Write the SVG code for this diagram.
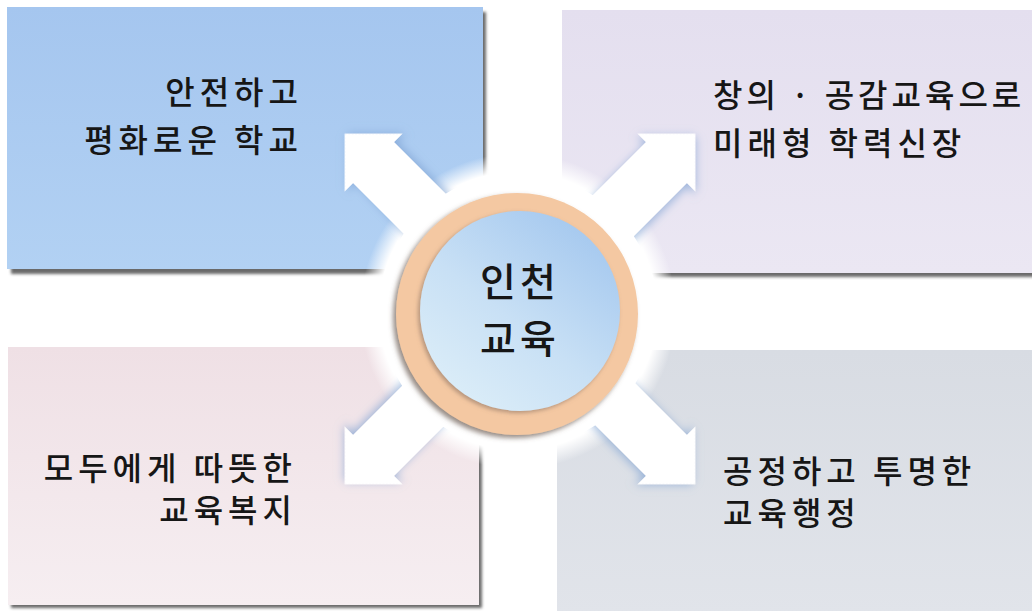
<svg xmlns="http://www.w3.org/2000/svg" width="1032" height="611" viewBox="0 0 1032 611">
<style>
.lbl{font-family:"Noto Sans CJK KR","Noto Sans",sans-serif;font-size:32px;font-weight:500;fill:#161616;letter-spacing:5px}
.tight{letter-spacing:4px}
.ctr{font-family:"Noto Sans CJK KR","Noto Sans",sans-serif;font-size:39px;font-weight:500;fill:#161616;letter-spacing:4px}
.shadow{fill:#6b6b6b;filter:url(#blur1)}
.arrow{fill:#ffffff;filter:url(#glow)}
</style>
<defs>
<filter id="blur1" x="-5%" y="-5%" width="110%" height="110%"><feGaussianBlur stdDeviation="1.4"/></filter>
<filter id="glow" x="-30%" y="-30%" width="160%" height="160%">
<feGaussianBlur in="SourceAlpha" stdDeviation="5" result="b"/>
<feOffset in="b" dx="-2" dy="2" result="o"/>
<feFlood flood-color="#7fa3d3" flood-opacity="0.75"/>
<feComposite in2="o" operator="in" result="s"/>
<feMerge><feMergeNode in="s"/><feMergeNode in="SourceGraphic"/></feMerge>
</filter>
<filter id="ringsh" x="-20%" y="-20%" width="140%" height="140%">
<feGaussianBlur in="SourceAlpha" stdDeviation="2.5" result="b"/>
<feOffset in="b" dx="-3" dy="3" result="o"/>
<feFlood flood-color="#6a5a50" flood-opacity="0.7"/>
<feComposite in2="o" operator="in" result="s"/>
<feMerge><feMergeNode in="s"/><feMergeNode in="SourceGraphic"/></feMerge>
</filter>
<filter id="innersh" x="-20%" y="-20%" width="140%" height="140%">
<feGaussianBlur in="SourceAlpha" stdDeviation="2" result="b"/>
<feOffset in="b" dx="-2" dy="2" result="o"/>
<feFlood flood-color="#8a7060" flood-opacity="0.6"/>
<feComposite in2="o" operator="in" result="s"/>
<feMerge><feMergeNode in="s"/><feMergeNode in="SourceGraphic"/></feMerge>
</filter>
<linearGradient id="gTL" x1="0" y1="0" x2="0" y2="1"><stop offset="0" stop-color="#a5c6ef"/><stop offset="1" stop-color="#b2d1f3"/></linearGradient>
<linearGradient id="gTR" x1="0" y1="0" x2="0" y2="1"><stop offset="0" stop-color="#e4dfef"/><stop offset="1" stop-color="#ebe7f3"/></linearGradient>
<linearGradient id="gBL" x1="0" y1="0" x2="0" y2="1"><stop offset="0" stop-color="#efe0e5"/><stop offset="1" stop-color="#f6eef1"/></linearGradient>
<linearGradient id="gBR" x1="0" y1="0" x2="0" y2="1"><stop offset="0" stop-color="#d8dce3"/><stop offset="1" stop-color="#e1e4ea"/></linearGradient>
<radialGradient id="gHalo" cx="0.5" cy="0.5" r="0.5">
<stop offset="0" stop-color="#ffffff"/><stop offset="0.88" stop-color="#ffffff"/><stop offset="1" stop-color="#ffffff" stop-opacity="0"/>
</radialGradient>
<linearGradient id="gInner" x1="0.85" y1="0.1" x2="0.2" y2="0.95">
<stop offset="0" stop-color="#a6c9ef"/><stop offset="0.55" stop-color="#c8e0f5"/><stop offset="1" stop-color="#dbedf8"/>
</linearGradient>
<path id="arr" d="M0,-29 L207,-29 L207,-41 L248,0 L207,41 L207,29 L0,29 Z"/>
</defs>

<rect width="1032" height="611" fill="#ffffff"/>

<g id="box-tl">
<rect class="shadow" x="11" y="12" width="475" height="262"/>
<rect x="7" y="7" width="476" height="262" fill="url(#gTL)"/>
<text class="lbl" x="303" y="104" text-anchor="end">안전하고</text>
<text class="lbl" x="303" y="152" text-anchor="end">평화로운 학교</text>
</g>

<g id="box-tr">
<rect class="shadow" x="566" y="14" width="470" height="263"/>
<rect x="562" y="10" width="474" height="263" fill="url(#gTR)"/>
<text class="lbl tight" x="713" y="107">창의 · 공감교육으로</text>
<text class="lbl" x="713" y="155">미래형 학력신장</text>
</g>

<g id="box-bl">
<rect class="shadow" x="11" y="351" width="471" height="257"/>
<rect x="8" y="347" width="471" height="258" fill="url(#gBL)"/>
<text class="lbl" x="297" y="480" text-anchor="end">모두에게 따뜻한</text>
<text class="lbl" x="297" y="522" text-anchor="end">교육복지</text>
</g>

<g id="box-br">
<rect x="557" y="350" width="480" height="265" fill="url(#gBR)"/>
<text class="lbl" x="723" y="483">공정하고 투명한</text>
<text class="lbl" x="723" y="525">교육행정</text>
</g>

<circle id="halo" cx="518" cy="311" r="158" fill="url(#gHalo)"/>

<g id="connectors">
<use href="#arr" class="arrow" transform="translate(520,309) rotate(-135)"/>
<use href="#arr" class="arrow" transform="translate(520,309) rotate(-45)"/>
<use href="#arr" class="arrow" transform="translate(520,309) rotate(135)"/>
<use href="#arr" class="arrow" transform="translate(520,309) rotate(45)"/>
</g>

<g id="center">
<circle cx="518" cy="311" r="138" fill="#ffffff"/>
<circle cx="517" cy="314" r="121" fill="#f4c8a2" filter="url(#ringsh)"/>
<circle cx="520" cy="311" r="100" fill="url(#gInner)" filter="url(#innersh)"/>
<text class="ctr" x="520" y="296" text-anchor="middle">인천</text>
<text class="ctr" x="520" y="353" text-anchor="middle">교육</text>
</g>
</svg>
